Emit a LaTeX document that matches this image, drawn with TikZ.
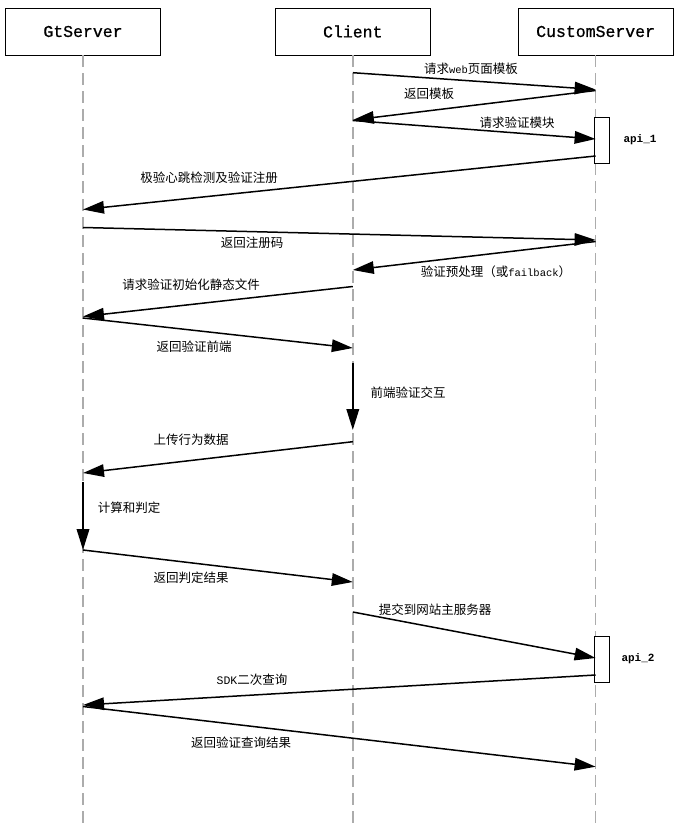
\documentclass[tikz,border=0pt]{standalone}
\usepackage{fontspec}
\setmonofont{Liberation Mono}
\newfontfamily\headfont[FakeBold=0.8]{Liberation Mono}
\newfontfamily\cjk{Noto Sans CJK SC}
\usetikzlibrary{arrows.meta,positioning}
\newcommand\monotxt[2][10.5]{{\ttfamily\fontsize{#1}{12}\selectfont #2}}
\tikzset{
  lane/.style={draw,line width=0.8pt,minimum width=155pt,minimum height=47pt,font=\headfont\fontsize{16.5}{18}\selectfont},
  lifeline/.style={gray!65,line width=1.5pt,dash pattern=on 12pt off 6pt},
  msg/.style={-{Triangle[length=21pt,width=12.5pt]},line width=1.5pt},
  selfmsg/.style={msg,line width=2pt},
  lbl/.style={font=\cjk\fontsize{12.5}{14}\selectfont,inner sep=0pt},
  actbox/.style={draw,fill=white,line width=0.8pt,minimum width=15pt,minimum height=46pt,inner sep=0pt},
  apilbl/.style={font=\ttfamily\bfseries\fontsize{11}{12}\selectfont,inner sep=0pt}
}
\begin{document}
\begin{tikzpicture}[x=1pt,y=-1pt]
  \useasboundingbox (0,0) rectangle (697,825);
  % participants
  \node[lane] (gt) at (83,31.5) {GtServer};
  \node[lane,right=114pt of gt] (cl) {Client};
  \node[lane,right=87pt of cl] (cs) {CustomServer};
  % lifelines
  \foreach \l in {gt,cl,cs}{\coordinate (\l end) at (\l |- 0,825); \draw[lifeline] (\l.south)--(\l end);}
  % activations
  \node[actbox] (api1) at (601.5,140) {};
  \node[apilbl] (api1txt) at (640,140) {api\_1};
  \node[actbox] (api2) at (601.5,659) {};
  \node[apilbl] (api2txt) at (638,659) {api\_2};
  % message end points
  \foreach \n/\l/\y in {m1s/cl/72.7,m1e/cs/89.5,m2s/cs/90.5,m2e/cl/120,m3s/cl/120.5,m3e/cs/139,
      m4s/cs/156,m4e/gt/209.5,m5s/gt/227.5,m5e/cs/240,m6s/cs/241.5,m6e/cl/270,
      m7s/cl/286.5,m7e/gt/316.5,m8s/gt/318,m8e/cl/348,m9s/cl/363,m9e/cl/430,
      m10s/cl/441.7,m10e/gt/473,m11s/gt/482,m11e/gt/550,m12s/gt/550,m12e/cl/582,
      m13s/cl/612,m13e/cs/658,m14s/cs/675,m14e/gt/705,m15s/gt/706.5,m15e/cs/766.7}
    {\coordinate (\n) at (\l |- 0,\y);}
  \foreach \a/\b in {m1s/m1e,m2s/m2e,m3s/m3e,m4s/m4e,m5s/m5e,m6s/m6e,m7s/m7e,m8s/m8e,
      m10s/m10e,m12s/m12e,m13s/m13e,m14s/m14e,m15s/m15e}{\draw[msg] (\a)--(\b);}
  \draw[selfmsg] (m9s)--(m9e);
  \draw[selfmsg] (m11s)--(m11e);
  % labels
  \node[lbl] (t1) at (471,68.5) {请求\monotxt{web}页面模板};
  \node[lbl] (t2) at (429,93.3) {返回模板};
  \node[lbl] (t3) at (517,122.7) {请求验证模块};
  \node[lbl] (t4) at (209,178) {极验心跳检测及验证注册};
  \node[lbl] (t5) at (252,243) {返回注册码};
  \node[lbl] (t6) at (496,271.7) {验证预处理（或\monotxt{failback}）};
  \node[lbl] (t7) at (191,285) {请求验证初始化静态文件};
  \node[lbl] (t8) at (194,347) {返回验证前端};
  \node[lbl] (t9) at (408,392.7) {前端验证交互};
  \node[lbl] (t10) at (191,440) {上传行为数据};
  \node[lbl] (t11) at (129,508) {计算和判定};
  \node[lbl] (t12) at (191,578) {返回判定结果};
  \node[lbl] (t13) at (435,610) {提交到网站主服务器};
  \node[lbl] (t14) at (252,680) {\monotxt[11.5]{SDK}二次查询};
  \node[lbl] (t15) at (241,743) {返回验证查询结果};
\end{tikzpicture}
\end{document}
